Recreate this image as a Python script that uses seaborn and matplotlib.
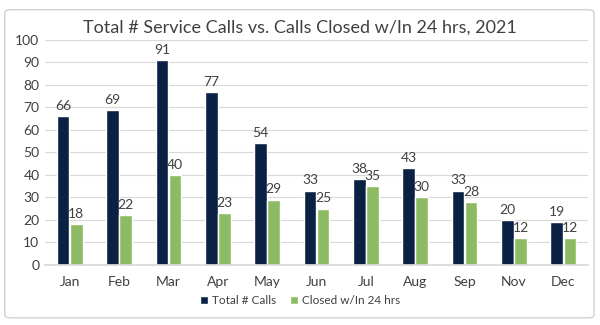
import matplotlib
matplotlib.use("Agg")
import matplotlib.pyplot as plt
import seaborn as sns
import pandas as pd
from matplotlib.patches import FancyBboxPatch, Patch

months = ["Jan", "Feb", "Mar", "Apr", "May", "Jun", "Jul", "Aug", "Sep", "Nov", "Dec"]
total_calls = [66, 69, 91, 77, 54, 33, 38, 43, 33, 20, 19]
closed_24h = [18, 22, 40, 23, 29, 25, 35, 30, 28, 12, 12]
series_names = ["Total # Calls", "Closed w/In 24 hrs"]
colors = ["#0b2143", "#8cbb63"]

df = pd.DataFrame({
    "Month": months * 2,
    "Calls": total_calls + closed_24h,
    "Series": [series_names[0]] * len(months) + [series_names[1]] * len(months),
})

sns.set_theme(style="white")
plt.rcParams["font.family"] = ["Lato", "DejaVu Sans"]
text_color = "#404040"

fig = plt.figure(figsize=(6, 3.25), dpi=100)
ax = fig.add_axes([0.075, 0.185, 0.905, 0.692])

# outer chart frame
frame = FancyBboxPatch((0.008, 0.022), 0.982, 0.948, boxstyle="round,pad=0,rounding_size=0.01",
                       transform=fig.transFigure, fill=False, edgecolor="#d0d0d0", linewidth=1.0)
fig.patches.append(frame)

sns.barplot(data=df, x="Month", y="Calls", hue="Series", palette=colors,
            width=0.53, gap=0.03, ax=ax, legend=False, saturation=1)

for container in ax.containers:
    ax.bar_label(container, padding=3, fontsize=10, color=text_color)

ax.set_ylim(0, 100)
ax.set_yticks(range(0, 101, 10))
ax.yaxis.grid(True, color="#d9d9d9", linewidth=0.8)
ax.set_axisbelow(True)
for s in ["top", "right", "left"]:
    ax.spines[s].set_visible(False)
ax.spines["bottom"].set_color("#d9d9d9")
ax.set_xlabel("")
ax.set_ylabel("")
ax.tick_params(axis="both", length=0, labelsize=10, colors=text_color, pad=4)
ax.tick_params(axis="x", pad=8)
ax.set_xlim(-0.5, len(months) - 0.5)

fig.text(0.5, 0.915, "Total # Service Calls vs. Calls Closed w/In 24 hrs, 2021",
         ha="center", va="center", fontsize=13, color=text_color)

handles = [Patch(facecolor=c, label=n) for c, n in zip(colors, series_names)]
fig.legend(handles=handles, loc="center", bbox_to_anchor=(0.5, 0.075), ncol=2,
           frameon=False, fontsize=8.5, handlelength=0.7, handleheight=0.7,
           handletextpad=0.3, columnspacing=1.2, labelcolor=text_color)

fig.savefig("out.png", dpi=100)
